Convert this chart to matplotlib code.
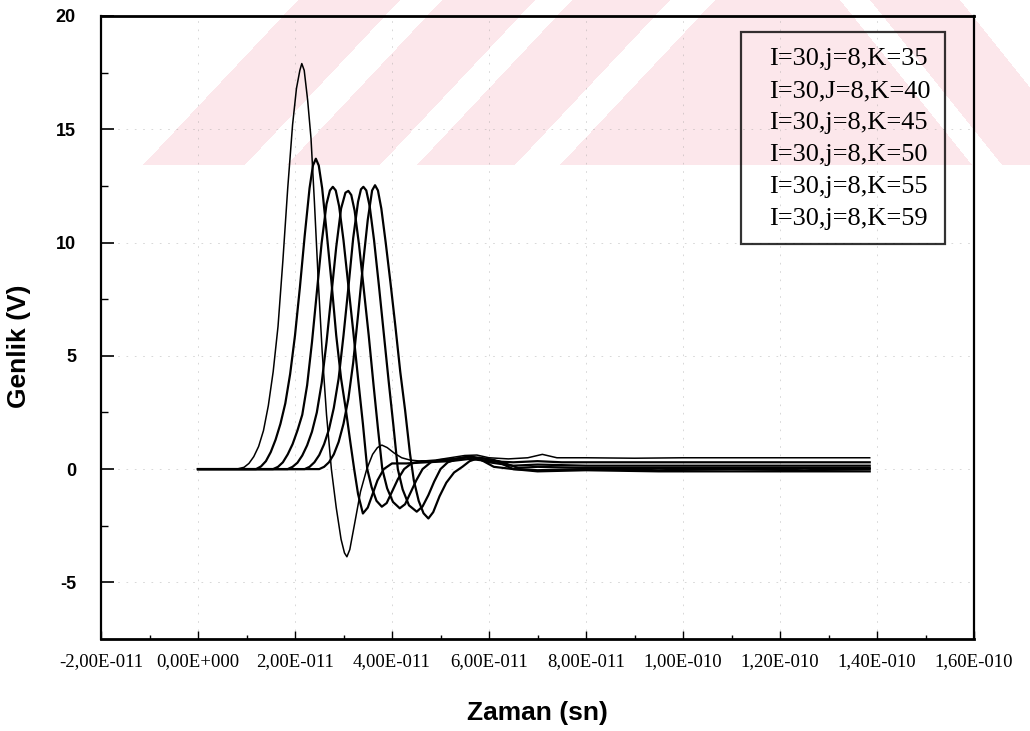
import numpy as np
import matplotlib
matplotlib.use("Agg")
import matplotlib.pyplot as plt
import matplotlib.ticker as plticker

# Time axis in picoseconds, amplitude in volts (read per K value)
labels = ["I=30,j=8,K=35", "I=30,J=8,K=40", "I=30,j=8,K=45",
          "I=30,j=8,K=50", "I=30,j=8,K=55", "I=30,j=8,K=59"]

t_k35 = [0, 8.0, 9.5, 10.5, 11.5, 12.5, 13.5, 14.5, 15.5, 16.5, 17.5, 18.5, 19.5, 20.3, 21.0, 21.4,
         21.9, 22.6, 23.3, 24.0, 24.8, 25.6, 26.5, 27.5, 28.5, 29.5, 30.2, 30.7, 31.3, 32.3, 33.5,
         34.8, 36.0, 37.0, 37.9, 39.0, 40.5, 42.0, 43.7, 46.0, 49.0, 52.0, 55.0, 57.5, 60.0, 64.0,
         68.0, 71.0, 74.0, 80.0, 90.0, 100.0, 110.0, 120.0, 130.0, 138.5]
v_k35 = [0, 0, 0.08, 0.25, 0.55, 1.0, 1.7, 2.8, 4.3, 6.3, 9.2, 12.4, 15.2, 16.8, 17.6, 17.9,
         17.6, 16.3, 14.6, 11.8, 8.3, 5.2, 2.4, 0.0, -1.7, -3.1, -3.7, -3.87, -3.55, -2.4, -1.0,
         0.0, 0.65, 0.95, 1.06, 0.95, 0.7, 0.5, 0.4, 0.35, 0.4, 0.5, 0.6, 0.62, 0.5, 0.45,
         0.5, 0.65, 0.5, 0.5, 0.48, 0.5, 0.5, 0.5, 0.5, 0.5]

t_k40 = [0, 12.0, 13.0, 14.0, 15.0, 16.0, 17.0, 18.0, 19.0, 20.0, 21.0, 22.0, 23.0, 23.7, 24.3,
         24.9, 25.6, 26.5, 27.5, 28.5, 29.5, 30.5, 31.4, 32.2, 33.0, 34.0, 35.0, 36.0, 37.0, 38.3,
         40.0, 43.0, 47.0, 52.0, 56.0, 60.0, 65.0, 70.0, 75.0, 85.0, 100.0, 120.0, 138.5]
v_k40 = [0, 0.0, 0.12, 0.35, 0.75, 1.3, 2.0, 2.9, 4.2, 5.9, 8.0, 10.3, 12.4, 13.4, 13.7,
         13.4, 12.4, 10.5, 8.3, 5.9, 4.0, 2.6, 1.2, 0.0, -1.1, -1.96, -1.7, -1.1, -0.5, 0.0,
         0.25, 0.25, 0.3, 0.35, 0.45, 0.35, 0.3, 0.35, 0.3, 0.3, 0.3, 0.3, 0.3]

t_k45 = [0, 15.5, 16.5, 17.5, 18.5, 19.5, 20.5, 21.5, 22.5, 23.5, 24.5, 25.5, 26.5, 27.2, 27.8,
         28.4, 29.1, 30.0, 31.0, 32.0, 33.0, 34.0, 34.9, 35.8, 36.8, 37.9, 38.9, 40.0, 41.2, 42.5,
         44.0, 46.0, 49.0, 53.0, 56.0, 60.0, 65.0, 70.0, 80.0, 95.0, 110.0, 125.0, 138.5]
v_k45 = [0, 0.0, 0.1, 0.3, 0.65, 1.1, 1.7, 2.4, 3.7, 5.6, 7.8, 10.0, 11.7, 12.3, 12.46,
         12.3, 11.6, 10.1, 8.1, 6.1, 4.0, 2.0, 0.0, -0.8, -1.4, -1.66, -1.5, -1.0, -0.45, 0.0,
         0.25, 0.35, 0.35, 0.45, 0.55, 0.3, 0.15, 0.2, 0.15, 0.15, 0.15, 0.15, 0.15]

t_k50 = [0, 18.5, 19.5, 20.5, 21.5, 22.5, 23.5, 24.5, 25.5, 26.5, 27.5, 28.5, 29.5, 30.4, 31.0,
         31.6, 32.3, 33.2, 34.2, 35.2, 36.2, 37.1, 38.0, 39.0, 40.2, 41.6, 42.7, 43.8, 45.0, 46.3,
         48.0, 50.0, 53.0, 56.0, 58.0, 62.0, 66.0, 70.0, 80.0, 95.0, 110.0, 125.0, 138.5]
v_k50 = [0, 0.0, 0.1, 0.28, 0.6, 1.05, 1.65, 2.5, 3.8, 5.6, 7.7, 9.8, 11.5, 12.2, 12.28,
         12.1, 11.4, 9.9, 7.9, 5.9, 3.7, 1.8, 0.0, -0.85, -1.45, -1.73, -1.55, -1.05, -0.5, 0.0,
         0.3, 0.4, 0.45, 0.55, 0.5, 0.35, 0.05, 0.1, 0.05, 0.05, 0.05, 0.05, 0.05]

t_k55 = [0, 22.0, 23.0, 24.0, 25.0, 26.0, 27.0, 28.0, 29.0, 30.0, 31.0, 32.0, 33.0, 33.6, 34.1,
         34.7, 35.4, 36.3, 37.3, 38.3, 39.3, 40.3, 41.2, 42.2, 43.5, 45.1, 46.3, 47.5, 48.7, 50.0,
         51.5, 53.5, 56.0, 58.0, 61.0, 65.0, 70.0, 80.0, 95.0, 110.0, 125.0, 138.5]
v_k55 = [0, 0.0, 0.1, 0.3, 0.62, 1.1, 1.75, 2.7, 4.0, 5.9, 8.0, 10.2, 11.8, 12.35, 12.46,
         12.3, 11.6, 10.1, 8.1, 6.0, 3.9, 1.9, 0.0, -0.9, -1.6, -1.88, -1.65, -1.15, -0.55, 0.0,
         0.3, 0.45, 0.55, 0.45, 0.1, 0.0, -0.05, 0.0, -0.05, 0.0, -0.05, 0.0]

t_k59 = [0, 25.0, 26.0, 27.0, 28.0, 29.0, 30.0, 31.0, 32.0, 33.0, 34.0, 35.0, 35.9, 36.5, 37.1,
         37.8, 38.7, 39.7, 40.7, 41.7, 42.7, 43.7, 44.5, 45.5, 46.5, 47.5, 48.5, 49.8, 51.2, 52.8,
         54.5, 56.0, 58.0, 61.0, 65.0, 70.0, 80.0, 95.0, 110.0, 125.0, 138.5]
v_k59 = [0, 0.0, 0.1, 0.3, 0.65, 1.2, 2.0, 3.1, 4.7, 6.8, 9.0, 11.0, 12.3, 12.53, 12.3,
         11.5, 10.0, 8.2, 6.3, 4.3, 2.6, 0.7, -0.5, -1.4, -1.95, -2.18, -1.9, -1.2, -0.6, -0.15,
         0.1, 0.35, 0.5, 0.4, 0.0, -0.1, -0.05, -0.1, -0.1, -0.1, -0.1]

x_ticks = [-2e-11, 0.0, 2e-11, 4e-11, 6e-11, 8e-11, 1e-10, 1.2e-10, 1.4e-10, 1.6e-10]
y_ticks = [-5, 0, 5, 10, 15, 20]

series = [(t_k35, v_k35), (t_k40, v_k40), (t_k45, v_k45),
          (t_k50, v_k50), (t_k55, v_k55), (t_k59, v_k59)]
widths = [1.1, 1.6, 1.6, 1.6, 1.6, 1.6]


def excel_sci(x, pos):
    # Excel-style scientific label, e.g. 2,00E-011
    if abs(x) < 1e-20:
        return "0,00E+000"
    e = int(np.floor(np.log10(abs(x))))
    m = x / 10.0**e
    if round(abs(m), 2) >= 10:
        m /= 10
        e += 1
    sign = "-" if e < 0 else "+"
    return f"{m:.2f}".replace(".", ",") + f"E{sign}{abs(e):03d}"


def watermark(w=1030, h=731):
    # light striped triangle behind the upper part of the plot
    yy, xx = np.mgrid[0:h, 0:w] + 0.5
    u = xx - 0.94 * (165 - yy)
    band = yy <= 165
    body = (u >= 143) & (xx <= 840 + 0.8 * yy)
    gaps = ((u >= 245) & (u <= 287)) | ((u >= 380) & (u <= 417)) | ((u >= 515) & (u <= 560))
    right = (xx >= 870 + 0.8 * yy) & (xx <= 960 + 0.8 * yy)
    mask = band & ((body & ~gaps) | right)
    img = np.ones((h, w, 3))
    img[mask] = np.array([252, 231, 235]) / 255.0
    return img


plt.rcParams["axes.unicode_minus"] = False
fig = plt.figure(figsize=(10.3, 7.31), dpi=100)

bg = fig.add_axes([0, 0, 1, 1], zorder=-1)
bg.imshow(watermark(), extent=(0, 1030, 731, 0), aspect="auto", interpolation="nearest")
bg.axis("off")

ax = fig.add_axes([101 / 1030, 1 - 639 / 731, 873 / 1030, 623 / 731])
ax.set_facecolor("none")

for (t, v), lab, lw in zip(series, labels, widths):
    ax.plot(np.array(t) * 1e-12, v, color="k", lw=lw, label=lab)

ax.set_xlim(-2e-11, 1.6e-10)
ax.set_ylim(-7.5, 20)

ax.xaxis.set_major_locator(plticker.FixedLocator(x_ticks))
ax.xaxis.set_minor_locator(plticker.FixedLocator(np.arange(-1, 16, 2) * 1e-11))
ax.xaxis.set_major_formatter(plticker.FuncFormatter(excel_sci))
ax.yaxis.set_major_locator(plticker.FixedLocator(y_ticks))
ax.yaxis.set_minor_locator(plticker.FixedLocator([-2.5, 2.5, 7.5, 12.5, 17.5]))

ax.grid(which="major", ls=(0, (2, 8)), color="0.6", lw=0.6, alpha=0.45)

ax.tick_params(axis="y", which="major", direction="in", length=9, width=1.2, pad=18)
ax.tick_params(axis="y", which="minor", direction="in", length=5, width=1.0)
ax.tick_params(axis="x", which="major", direction="in", length=6, width=1.0, pad=10)
ax.tick_params(axis="x", which="minor", direction="in", length=3, width=1.0)

for lab in ax.get_yticklabels():
    lab.set_fontfamily("Liberation Sans")
    lab.set_fontweight("bold")
    lab.set_fontsize(13)
for lab in ax.get_xticklabels():
    lab.set_fontfamily("Liberation Serif")
    lab.set_fontsize(13.5)

for s in ax.spines.values():
    s.set_linewidth(1.6)
ax.spines["top"].set_linewidth(2.0)
ax.spines["bottom"].set_linewidth(2.0)

ax.set_ylabel("Genlik (V)", fontfamily="Liberation Sans", fontweight="bold", fontsize=19)
ax.yaxis.set_label_coords(-0.08, 0.47)
ax.set_xlabel("Zaman (sn)", fontfamily="Liberation Sans", fontweight="bold", fontsize=19)
ax.xaxis.set_label_coords(0.5, -0.1)

leg = ax.legend(loc="upper right", bbox_to_anchor=(0.967, 0.974), borderaxespad=0,
                handlelength=0, handletextpad=0.5, labelspacing=0.32, borderpad=0.55,
                fancybox=False, frameon=True, prop={"family": "Liberation Serif", "size": 19})
leg.get_frame().set_edgecolor("k")
leg.get_frame().set_linewidth(1.6)
leg.get_frame().set_facecolor("none")

fig.savefig("out.png", dpi=100)
